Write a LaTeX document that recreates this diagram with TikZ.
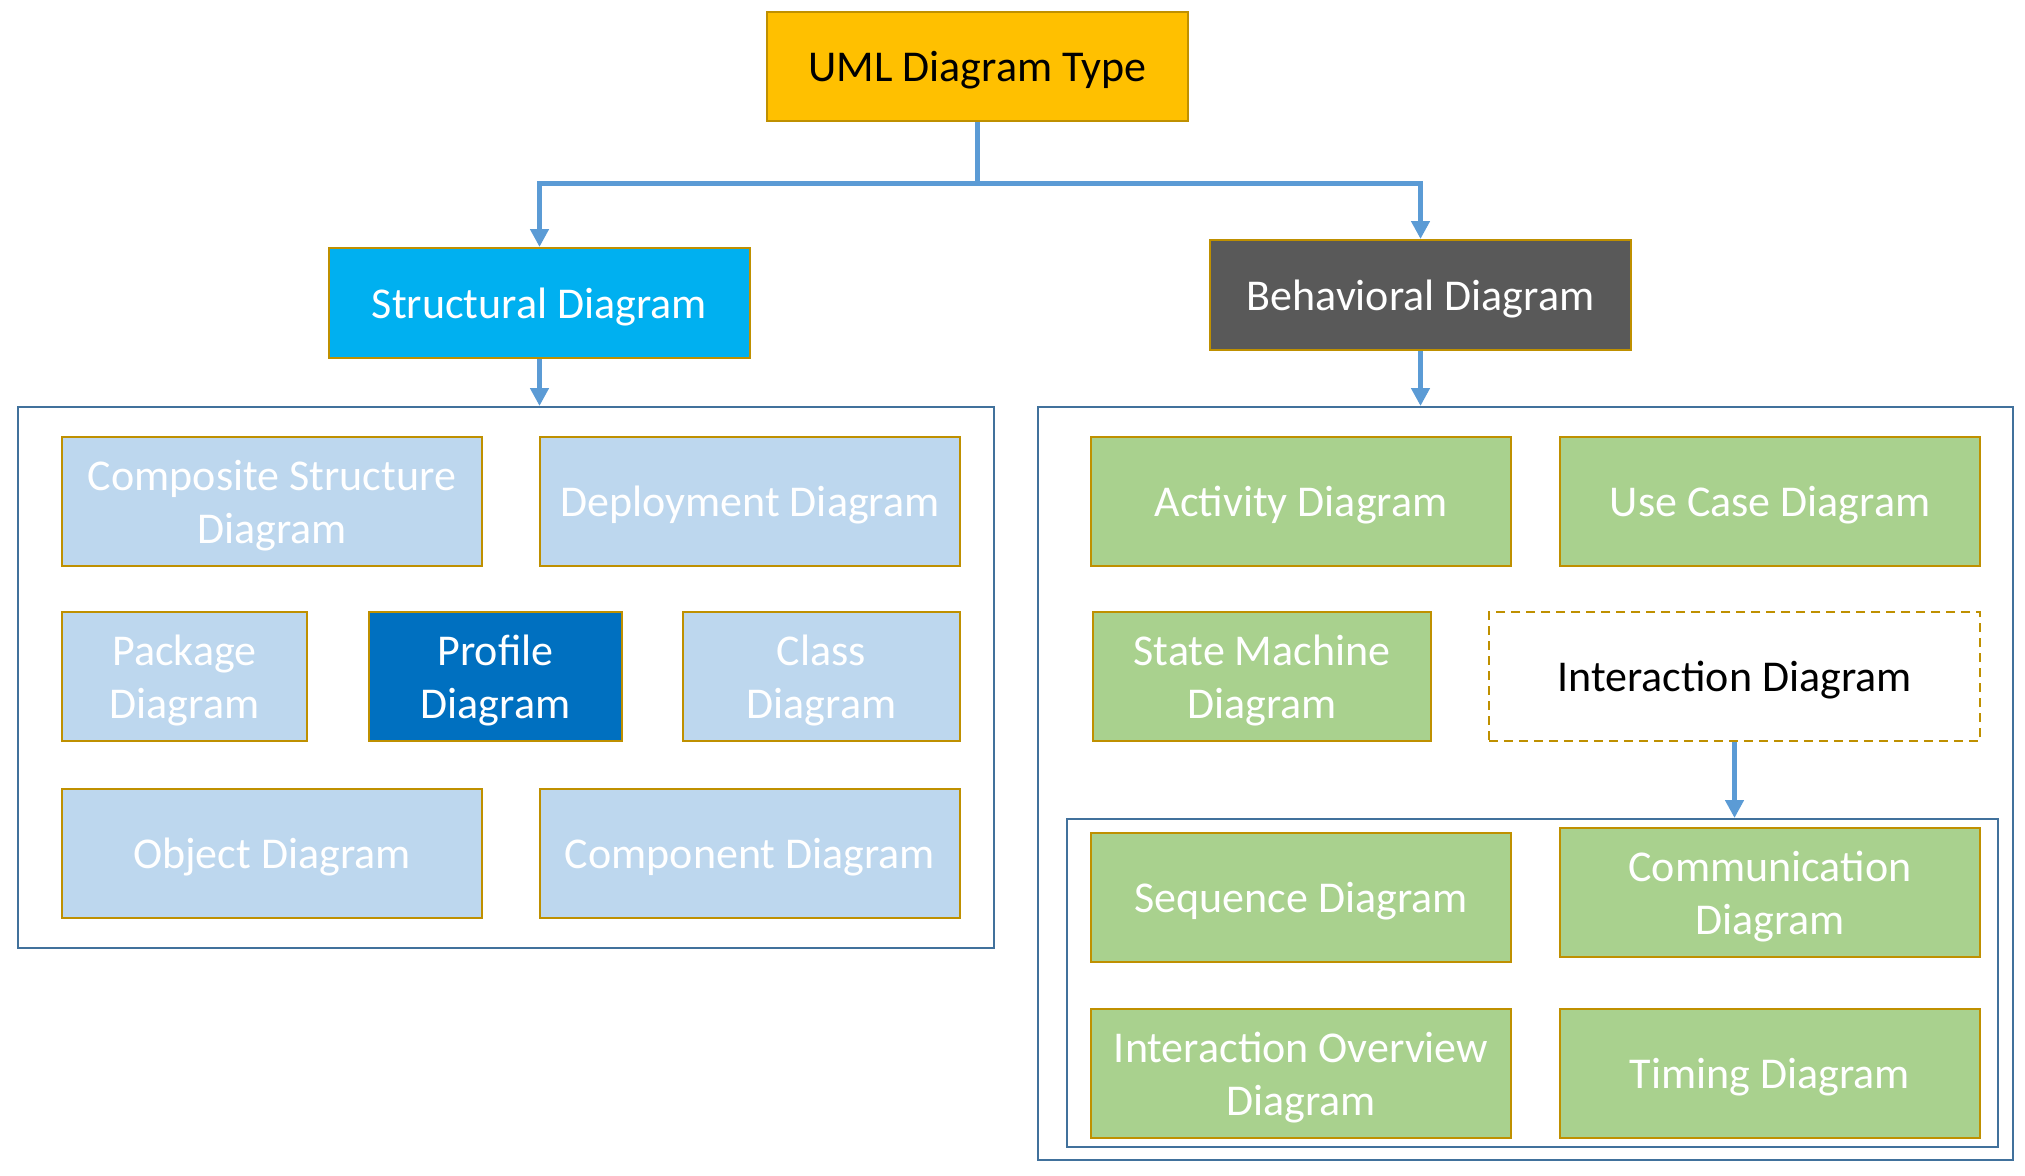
\documentclass[tikz,border=0pt]{standalone}
\usepackage{fontspec}
\setmainfont{Carlito}
\usetikzlibrary{arrows.meta}
\definecolor{gold}{HTML}{BF9000}
\definecolor{umlfill}{HTML}{FFC000}
\definecolor{cyanfill}{HTML}{00B0F0}
\definecolor{darkfill}{HTML}{595959}
\definecolor{lightblue}{HTML}{BDD7EE}
\definecolor{profileblue}{HTML}{0070C0}
\definecolor{greenfill}{HTML}{A9D18E}
\definecolor{framecol}{HTML}{41719C}
\definecolor{arrowcol}{HTML}{5B9BD5}
\begin{document}
\begin{tikzpicture}[x=1pt,y=-1pt,
  box/.style={draw=gold, line width=2pt, align=center, inner sep=0pt,
    font=\fontsize{44}{53}\selectfont, text=white, minimum height=129pt, text depth=0pt},
  frame/.style={draw=framecol, line width=2pt, inner sep=0pt},
  arr/.style={draw=arrowcol, line width=5pt, -{Triangle[width=18pt,length=18pt]}},
  lnk/.style={draw=arrowcol, line width=5pt}
]
\useasboundingbox (0,0) rectangle (2025,1175);
% frames
\node[frame, minimum width=976pt, minimum height=541pt] (louter) at (506,677.5) {};
\node[frame, minimum width=975pt, minimum height=753pt] (router) at (1525.5,783.5) {};
\node[frame, minimum width=931pt, minimum height=328pt] (inner) at (1532.5,983) {};
% top
\node[box, fill=umlfill, text=black, minimum width=421pt, minimum height=109pt] (uml) at (977.5,66.5) {UML Diagram Type};
\node[box, fill=cyanfill, minimum width=421pt, minimum height=110pt] (struct) at (539.5,303) {Structural Diagram};
\node[box, fill=darkfill, minimum width=421pt, minimum height=110pt] (behav) at (1420.5,295) {Behavioral Diagram};
% structural children
\node[box, fill=lightblue, minimum width=420pt] (comp) at (272,501.5) {Composite Structure\\Diagram};
\node[box, fill=lightblue, minimum width=420pt] (deploy) at (750,501.5) {Deployment Diagram};
\node[box, fill=lightblue, minimum width=245pt] (pack) at (184.5,676.5) {Package\\Diagram};
\node[box, fill=profileblue, minimum width=253pt] (prof) at (495.5,676.5) {Profile\\Diagram};
\node[box, fill=lightblue, minimum width=277pt] (class) at (821.5,676.5) {Class\\Diagram};
\node[box, fill=lightblue, minimum width=420pt] (obj) at (272,853.5) {Object Diagram};
\node[box, fill=lightblue, minimum width=420pt] (compo) at (750,853.5) {Component Diagram};
% behavioral children
\node[box, fill=greenfill, minimum width=420pt] (act) at (1301,501.5) {Activity Diagram};
\node[box, fill=greenfill, minimum width=420pt] (usecase) at (1770,501.5) {Use Case Diagram};
\node[box, fill=greenfill, minimum width=338pt] (state) at (1262,676.5) {State Machine\\Diagram};
\node[box, draw=gold, dash pattern=on 9pt off 6pt, fill=white, text=black, minimum width=491pt] (inter) at (1734.5,676.5) {Interaction Diagram};
\node[box, fill=greenfill, minimum width=420pt] (seq) at (1301,897.5) {Sequence Diagram};
\node[box, fill=greenfill, minimum width=420pt] (commu) at (1770,892.5) {Communication\\Diagram};
\node[box, fill=greenfill, minimum width=420pt] (iov) at (1301,1073.5) {Interaction Overview\\Diagram};
\node[box, fill=greenfill, minimum width=420pt] (timing) at (1770,1073.5) {Timing Diagram};
% connectors
\coordinate (j) at (977.5,183);
\draw[lnk] (uml.south) -- (j);
\draw[arr] (j) -| (struct.north);
\draw[arr] (j) -| (behav.north);
\draw[arr] (struct.south) -- (struct.south |- louter.north);
\draw[arr] (behav.south) -- (behav.south |- router.north);
\draw[arr] (inter.south) -- (inter.south |- inner.north);
\end{tikzpicture}
\end{document}
